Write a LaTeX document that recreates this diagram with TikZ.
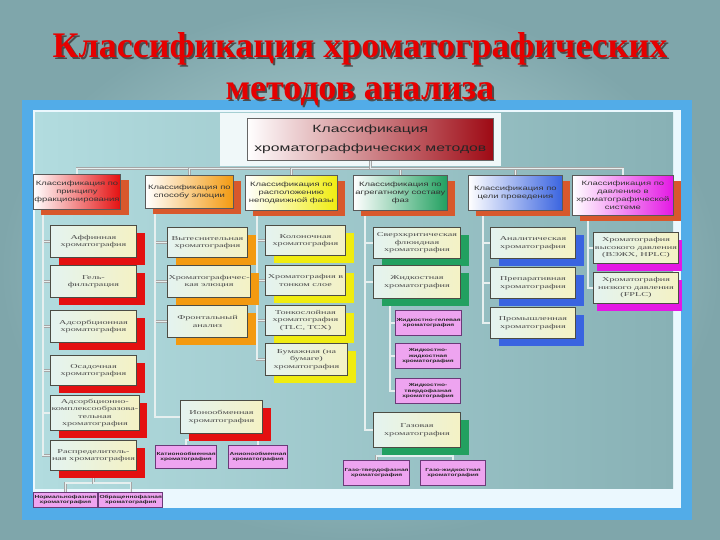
\documentclass[tikz,border=0pt]{standalone}
\usepackage{fontspec}
\setmainfont{Liberation Serif}
\newfontfamily\headfont[FakeStretch=1.5]{Liberation Sans}
\newfontfamily\boxfont[FakeStretch=1.7]{Liberation Serif}
\usetikzlibrary{shadows}

\definecolor{slidebg}{HTML}{7FA6AB}
\definecolor{slidebgin}{HTML}{BEDFE1}
\definecolor{framebl}{HTML}{52ACE8}
\definecolor{panelin}{HTML}{B2DCDF}
\definecolor{panelout}{HTML}{88B1B5}
\definecolor{ttlred}{HTML}{E60000}
\definecolor{rootred}{HTML}{9E0A14}
\definecolor{shred}{HTML}{D8582C}
\definecolor{cred}{HTML}{E41010}
\definecolor{corange}{HTML}{F39A10}
\definecolor{cyellow}{HTML}{F0EC10}
\definecolor{cgreen}{HTML}{22A060}
\definecolor{cblue}{HTML}{3A64E0}
\definecolor{cmag}{HTML}{E418E4}
\definecolor{boxleft}{HTML}{E4F3F0}
\definecolor{boxright}{HTML}{F4F2C4}
\definecolor{boxline}{HTML}{4C4C44}
\definecolor{pinkfill}{HTML}{EEA4F0}
\definecolor{pinkline}{HTML}{6A3A78}
\definecolor{linkc}{HTML}{E6EFEF}

\pgfdeclarelayer{back}
\pgfdeclarelayer{wires}
\pgfsetlayers{back,wires,main}

% red title text with a dark shadow behind it
\newcommand{\shadowed}[1]{\rlap{\hspace{2pt}\raisebox{-2pt}{\color{black!70}#1}}#1}

\tikzset{
  ttl/.style={font=\bfseries\fontsize{36}{42}\selectfont, anchor=base, inner sep=0pt, text=ttlred},
  root/.style={anchor=north west, minimum width=246pt, minimum height=42pt,
    left color=white, right color=rootred, draw=black!60, line width=0.6pt,
    font=\headfont\fontsize{10.5}{19}\selectfont, text=black!85, align=center, inner sep=0pt},
  head/.style={anchor=north west, minimum height=35pt, draw=black!65, line width=0.8pt,
    align=center, inner sep=1pt, text=black!80, font=\headfont\fontsize{6.3}{8}\selectfont,
    left color=white, drop shadow={shadow xshift=8pt, shadow yshift=-6pt, fill=shred, opacity=1}},
  item/.style={anchor=north west, minimum height=31pt, draw=boxline, line width=1pt,
    align=center, inner sep=1pt, text=black!70, font=\boxfont\fontsize{6}{7.5}\selectfont,
    left color=boxleft, right color=boxright},
  sub/.style={anchor=north west, minimum height=25pt, fill=pinkfill, draw=pinkline,
    line width=1pt, align=center, inner sep=1pt, text=black!85,
    font=\headfont\bfseries\fontsize{4.4}{5.6}\selectfont},
  sh/.style={drop shadow={shadow xshift=8pt, shadow yshift=-7pt, fill=#1, opacity=1}},
  link/.style={draw=gray!70, double=linkc, double distance=1.4pt, line width=0.5pt},
}

\begin{document}
\begin{tikzpicture}[x=1pt,y=-1pt]
\useasboundingbox (0,0) rectangle (720,540);

% slide, frame, panel
\begin{pgfonlayer}{back}
\shade[inner color=slidebgin, outer color=slidebg] (0,0) rectangle (720,540);
\fill[framebl] (22,100) rectangle (692,520);
\fill[white!92!cyan] (33,110) rectangle (681,508);
\shade[left color=panelin, right color=panelout] (35,113) rectangle (673,488);
\end{pgfonlayer}

% title
\node[ttl] (ttla) at (360,58) {\shadowed{Классификация хроматографических}};
\node[ttl] (ttlb) at (360,100) {\shadowed{методов анализа}};

% root
\node[root] (root) at (247,118) {Классификация\\хроматограффических методов};
\begin{pgfonlayer}{back}
\fill[white!80!panelin] ([shift={(-27,-5)}]root.north west) rectangle ([shift={(7,5)}]root.south east);
\end{pgfonlayer}

% level 1
\node[head, minimum width=84pt, right color=cred] (k1) at (33,174) {Классификация по\\принципу\\фракционирования};
\node[head, minimum width=88pt, minimum height=33pt, right color=corange] (k2) at (145,175) {Классификация по\\способу элюции};
\node[head, minimum width=92pt, right color=cyellow] (k3) at (245,175) {Классификация по\\расположению\\неподвижной фазы};
\node[head, minimum width=94pt, right color=cgreen] (k4) at (353,175) {Классификация по\\агрегатному составу\\фаз};
\node[head, minimum width=94pt, right color=cblue] (k5) at (468,175) {Классификация по\\цели проведения};
\node[head, minimum width=101pt, minimum height=40pt, right color=cmag] (k6) at (572,175) {Классификация по\\давлению в\\хроматографической\\системе};

% principle
\node[item, sh=cred, minimum width=86pt, minimum height=32pt] (a1) at (50,225) {Аффинная\\хроматография};
\node[item, sh=cred, minimum width=86pt, minimum height=32pt] (a2) at (50,265) {Гель-\\фильтрация};
\node[item, sh=cred, minimum width=86pt, minimum height=32pt] (a3) at (50,310) {Адсорбционная\\хроматография};
\node[item, sh=cred, minimum width=86pt, minimum height=30pt] (a4) at (50,355) {Осадочная\\хроматография};
\node[item, sh=cred, minimum width=87pt, minimum height=35pt] (a5) at (50,395) {Адсорбционно-\\комплексообразова-\\тельная\\хроматография};
\node[item, sh=cred, minimum width=86pt, minimum height=30pt] (a6) at (50,440) {Распределитель-\\ная хроматография};
\node[sub, minimum width=54pt, minimum height=15pt] (n1) at (33,492) {Нормальнофазная\\хроматография};
\node[sub, minimum width=60pt, minimum height=15pt] (n2) at (98,492) {Обращеннофазная\\хроматография};

% elution
\node[item, sh=corange, minimum width=80pt, minimum height=30pt] (b1) at (167,227) {Вытеснительная\\хроматография};
\node[item, sh=corange, minimum width=80pt, minimum height=32pt] (b2) at (167,265) {Хроматографичес-\\кая элюция};
\node[item, sh=corange, minimum width=80pt, minimum height=32pt] (b3) at (167,305) {Фронтальный\\анализ};
\node[item, sh=cred, minimum width=82pt, minimum height=33pt] (ion) at (180,400) {Ионообменная\\хроматография};
\node[sub, minimum width=58pt, minimum height=23pt] (i1) at (155,445) {Катионообменная\\хроматография};
\node[sub, minimum width=57pt, minimum height=23pt] (i2) at (228,445) {Анионообменная\\хроматография};

% stationary phase
\node[item, sh=cyellow, minimum width=80pt, minimum height=30pt] (c1) at (265,225) {Колоночная\\хроматография};
\node[item, sh=cyellow, minimum width=80pt, minimum height=30pt] (c2) at (265,265) {Хроматография в\\тонком слое};
\node[item, sh=cyellow, minimum width=80pt, minimum height=30pt] (c3) at (265,305) {Тонкослойная\\хроматография\\(TLC, ТСХ)};
\node[item, sh=cyellow, minimum width=82pt, minimum height=32pt] (c4) at (265,343) {Бумажная (на\\бумаге)\\хроматография};

% aggregate state
\node[item, sh=cgreen, minimum width=87pt, minimum height=31pt] (d1) at (373,227) {Сверхкритическая\\флюидная\\хроматография};
\node[item, sh=cgreen, minimum width=87pt, minimum height=33pt] (d2) at (373,265) {Жидкостная\\хроматография};
\node[sub, minimum width=65pt] (l1) at (395,310) {Жидкостно-гелевая\\хроматография};
\node[sub, minimum width=65pt] (l2) at (395,343) {Жидкостно-\\жидкостная\\хроматография};
\node[sub, minimum width=65pt] (l3) at (395,378) {Жидкостно-\\твердофазная\\хроматография};
\node[item, sh=cgreen, minimum width=87pt, minimum height=35pt] (d3) at (373,412) {Газовая\\хроматография};
\node[sub, minimum width=62pt] (g1) at (343,460) {Газо-твердофазная\\хроматография};
\node[sub, minimum width=65pt] (g2) at (420,460) {Газо-жидкостная\\хроматография};

% purpose
\node[item, sh=cblue, minimum width=85pt] (e1) at (490,227) {Аналитическая\\хроматография};
\node[item, sh=cblue, minimum width=85pt] (e2) at (490,267) {Препаративная\\хроматография};
\node[item, sh=cblue, minimum width=85pt] (e3) at (490,307) {Промышленная\\хроматография};

% pressure
\node[item, minimum width=85pt, drop shadow={shadow xshift=3pt, shadow yshift=-7pt, fill=cmag, opacity=1}] (f1) at (593,232) {Хроматография\\высокого давления\\(ВЭЖХ, HPLC)};
\node[item, minimum width=85pt, drop shadow={shadow xshift=3pt, shadow yshift=-7pt, fill=cmag, opacity=1}] (f2) at (593,272) {Хроматография\\низкого давления\\(FPLC)};

% connectors
\begin{pgfonlayer}{wires}
\foreach \k in {k1,k2,k3,k4,k5,k6}
  \draw[link] (root.south) -- ++(0,8) -| (\k.north);
\foreach \a in {a1,a2,a3,a4,a5,a6}
  \draw[link] ([xshift=10pt]k1.south west) |- (\a.west);
\foreach \b in {b1,b2,b3,ion}
  \draw[link] ([xshift=10pt]k2.south west) |- (\b.west);
\foreach \c in {c1,c2,c3,c4}
  \draw[link] ([xshift=12pt]k3.south west) |- (\c.west);
\foreach \d in {d1,d2,d3}
  \draw[link] ([xshift=12pt]k4.south west) |- (\d.west);
\foreach \l in {l1,l2,l3}
  \draw[link] ([xshift=17pt]d2.south west) |- (\l.west);
\foreach \e in {e1,e2,e3}
  \draw[link] ([xshift=15pt]k5.south west) |- (\e.west);
\foreach \f in {f1,f2}
  \draw[link] ([xshift=16pt]k6.south west) |- (\f.west);
\foreach \n in {n1,n2}
  \draw[link] (a6.south) -- ++(0,12) -| (\n.north);
\foreach \i in {i1,i2}
  \draw[link] (ion.south) -- ++(0,6) -| (\i.north);
\foreach \g in {g1,g2}
  \draw[link] (d3.south) -- ++(0,8) -| (\g.north);
\end{pgfonlayer}
\end{tikzpicture}
\end{document}
